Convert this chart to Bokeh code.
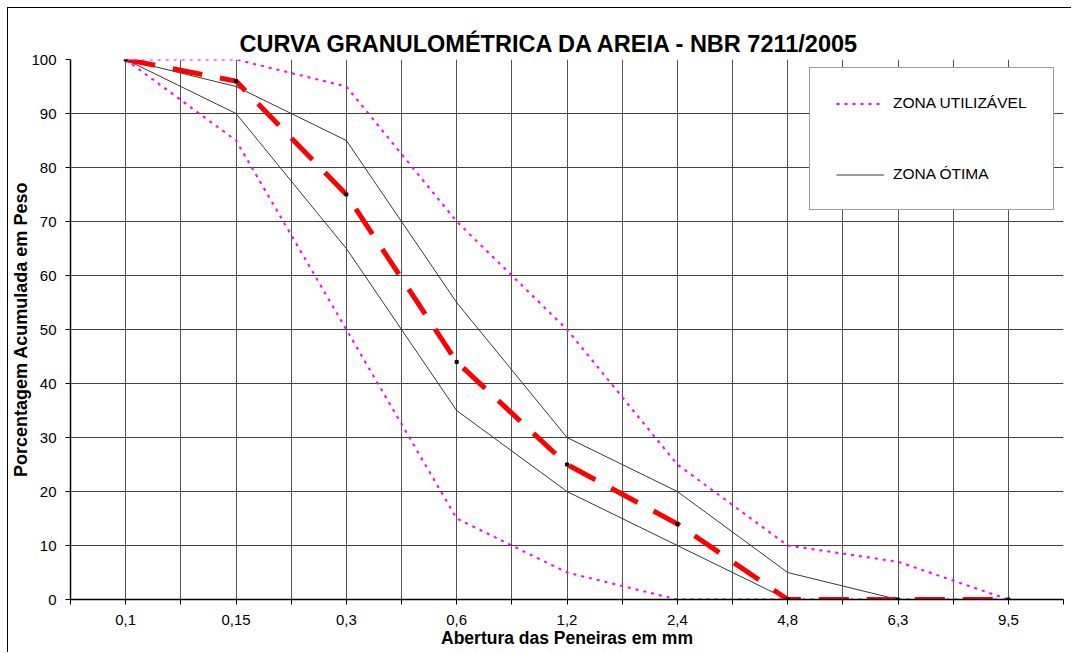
from bokeh.plotting import figure
from bokeh.models import FixedTicker, Range1d, Legend, LegendItem
from bokeh.embed import file_html
from bokeh.resources import INLINE

# ---- data ----
x_labels = ["0,1", "0,15", "0,3", "0,6", "1,2", "2,4", "4,8", "6,3", "9,5"]
zona_util_sup = [100, 100, 95, 70, 50, 25, 10, 7, 0]
zona_util_inf = [100, 85, 50, 15, 5, 0, 0, 0, 0]
zona_otima_sup = [100, 95, 85, 55, 30, 20, 5, 0, 0]
zona_otima_inf = [100, 90, 65, 35, 20, 10, 0, 0, 0]
areia = [100, 96, 75, 44, 25, 14, 0, 0, 0]
y_ticks = [0, 10, 20, 30, 40, 50, 60, 70, 80, 90, 100]

title_text = "CURVA GRANULOMÉTRICA DA AREIA - NBR 7211/2005"
x_title = "Abertura das Peneiras em mm"
y_title = "Porcentagem Acumulada em Peso"
legend_labels = ["ZONA UTILIZÁVEL", "ZONA ÓTIMA"]

FONT = "Liberation Sans"
n = len(x_labels)
xs = list(range(n))

p = figure(width=1064, height=645, output_backend="svg", toolbar_location=None,
           x_range=Range1d(-0.5, n - 0.5), y_range=Range1d(y_ticks[0], y_ticks[-1]),
           min_border_left=60, min_border_right=9, min_border_top=51, min_border_bottom=54)
p.margin = (8, 0, 0, 8)
p.outline_line_color = None
p.background_fill_color = "white"
p.border_fill_color = "white"
p.styles = {"box-shadow": "-1px -1px 0 0 #000"}

# title
p.title.text = title_text
p.title.text_font = FONT
p.title.text_font_size = "23.5px"
p.title.text_font_style = "bold"
p.title.text_color = "black"
p.title.align = "left"
p.title.offset = 169
p.title.standoff = 6

# x axis
half_ticks = [i * 0.5 - 0.5 for i in range(2 * n + 1)]
overrides = {}
for t in half_ticks:
    overrides[t] = ""
for i, lab in enumerate(x_labels):
    overrides[float(i)] = lab
p.xaxis.ticker = FixedTicker(ticks=half_ticks)
p.xaxis.major_label_overrides = overrides
p.xaxis.major_tick_out = 5
p.xaxis.major_tick_in = 0
p.xaxis.minor_tick_line_color = None
p.xaxis.axis_line_color = "black"
p.xaxis.axis_line_width = 1.5
p.xaxis.major_tick_line_color = "black"
p.xaxis.major_label_text_font = FONT
p.xaxis.major_label_text_font_size = "15px"
p.xaxis.major_label_text_color = "black"
p.xaxis.major_label_standoff = 10
p.xaxis.axis_label = x_title
p.xaxis.axis_label_text_font = FONT
p.xaxis.axis_label_text_font_size = "17.5px"
p.xaxis.axis_label_text_font_style = "bold"
p.xaxis.axis_label_text_color = "black"
p.xaxis.axis_label_standoff = 0

# y axis
p.yaxis.ticker = FixedTicker(ticks=y_ticks)
p.yaxis.major_tick_out = 5
p.yaxis.major_tick_in = 0
p.yaxis.minor_tick_line_color = None
p.yaxis.axis_line_color = "black"
p.yaxis.axis_line_width = 1.5
p.yaxis.major_tick_line_color = "black"
p.yaxis.major_label_text_font = FONT
p.yaxis.major_label_text_font_size = "15px"
p.yaxis.major_label_text_color = "black"
p.yaxis.major_label_standoff = 9
p.yaxis.axis_label = y_title
p.yaxis.axis_label_text_font = FONT
p.yaxis.axis_label_text_font_size = "18px"
p.yaxis.axis_label_text_font_style = "bold"
p.yaxis.axis_label_text_color = "black"
p.yaxis.axis_label_standoff = -3

# grids
p.xgrid.ticker = FixedTicker(ticks=[t for t in half_ticks if 0 <= t <= n - 1])
p.xgrid.grid_line_color = "#555555"
p.xgrid.grid_line_width = 1
p.ygrid.ticker = FixedTicker(ticks=y_ticks[1:-1])
p.ygrid.grid_line_color = "#404040"
p.ygrid.grid_line_width = 1

# series
r_ot_sup = p.line(xs, zona_otima_sup, line_color="#3a3a3a", line_width=1)
r_ot_inf = p.line(xs, zona_otima_inf, line_color="#3a3a3a", line_width=1)
r_areia = p.line(xs, areia, line_color="#ff0000", line_width=5, line_dash="30 18")
r_ut_sup = p.line(xs, zona_util_sup, line_color="#ff00ff", line_width=2, line_dash="3 5")
r_ut_inf = p.line(xs, zona_util_inf, line_color="#ff00ff", line_width=2, line_dash="3 5")
p.scatter(xs, areia, marker="square", size=3, color="black")

legend = Legend(items=[LegendItem(label=legend_labels[0], renderers=[r_ut_sup]),
                       LegendItem(label=legend_labels[1], renderers=[r_ot_sup])],
                location=(739, 389), orientation="vertical",
                border_line_color="#404040", border_line_width=1,
                background_fill_color="white", background_fill_alpha=1,
                padding=26, spacing=53, glyph_height=17, glyph_width=48,
                label_height=17, label_standoff=9, margin=0,
                label_text_font=FONT, label_text_font_size="15.5px",
                label_text_color="black")
p.add_layout(legend)

open("out.html", "w").write(file_html(p, INLINE))
